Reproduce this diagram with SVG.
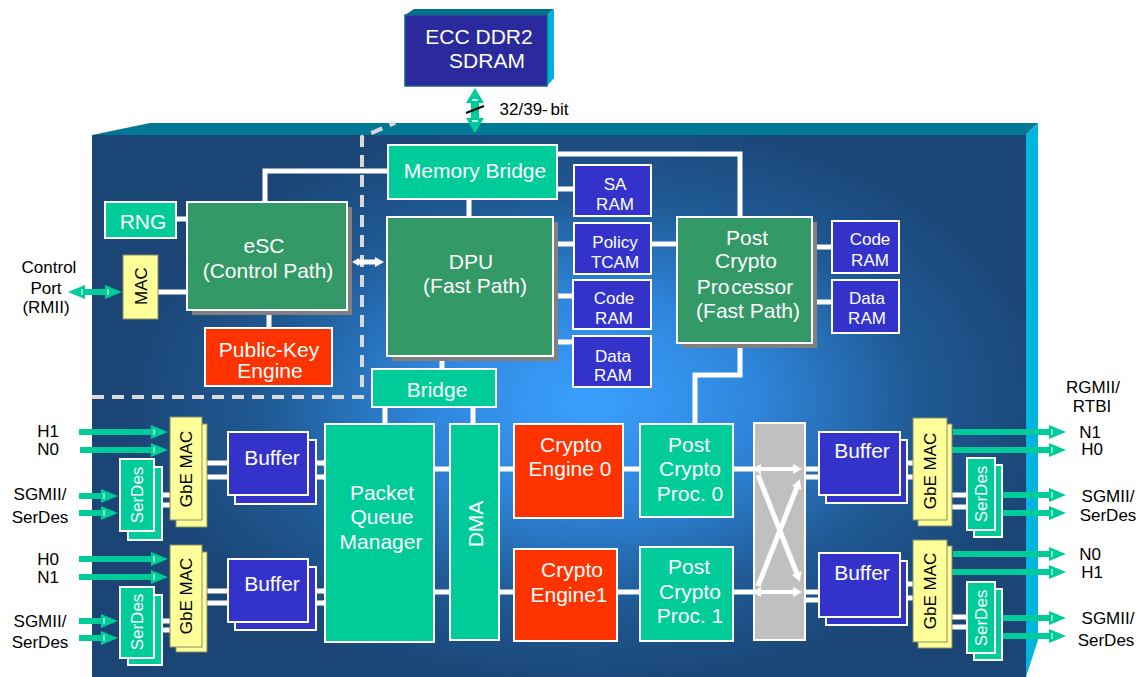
<svg xmlns="http://www.w3.org/2000/svg" width="1140" height="677" viewBox="0 0 1140 677">
<defs>
<radialGradient id="bg" gradientUnits="userSpaceOnUse" cx="590" cy="400" r="470" gradientTransform="translate(590 400) scale(1 0.62) translate(-590 -400)">
<stop offset="0" stop-color="#3aa0ff"/>
<stop offset="0.35" stop-color="#2f86dc"/>
<stop offset="0.7" stop-color="#1f5993"/>
<stop offset="1" stop-color="#1b4575"/>
</radialGradient>
<marker id="th" markerUnits="userSpaceOnUse" markerWidth="20" markerHeight="16" refX="1" refY="7" orient="auto-start-reverse" overflow="visible">
<path d="M0,0 L17,7 L0,14 z" fill="#00cc99"/>
<path d="M3,4 L3,10" stroke="#ffffff" stroke-width="1"/>
</marker>
<marker id="thB" markerUnits="userSpaceOnUse" markerWidth="18" markerHeight="20" refX="1" refY="9" orient="auto-start-reverse" overflow="visible">
<path d="M0,0 L15,9 L0,18 z" fill="#00cc99"/>
<path d="M3,6 L3,12" stroke="#ffffff" stroke-width="1.5"/>
</marker>
<marker id="wh" markerUnits="userSpaceOnUse" markerWidth="12" markerHeight="12" refX="1" refY="5" orient="auto-start-reverse" overflow="visible">
<path d="M0,0 L9,5 L0,10 z" fill="#ffffff"/>
</marker>
<marker id="whS" markerUnits="userSpaceOnUse" markerWidth="10" markerHeight="10" refX="1" refY="4" orient="auto-start-reverse" overflow="visible">
<path d="M0,0 L7,4 L0,8 z" fill="#ffffff"/>
</marker>
<style>
.tg{fill:#00cc99;stroke:#fff;stroke-width:2}
.dg{fill:#339966;stroke:#fff;stroke-width:2}
.bl{fill:#3333cc;stroke:#fff;stroke-width:2}
.rd{fill:#ff3300;stroke:#fff;stroke-width:2}
.yl{fill:#ffff99;stroke:#8c8c66;stroke-width:1}
.sh{fill:#808080}
.gr{fill:#c0c0c0;stroke:#fff;stroke-width:2}
.wt{fill:#fff;font-family:"Liberation Sans",Arial,sans-serif;font-size:21px;text-anchor:middle}
.ws{font-size:17px}
.bk{fill:#000;font-family:"Liberation Sans",Arial,sans-serif;font-size:17px;text-anchor:middle}
.cn{stroke:#fff;stroke-width:5;fill:none}
.ta{stroke:#00cc99;stroke-width:6;fill:none;marker-end:url(#th)}
</style>
</defs>

<g id="chip">
<rect x="92" y="135" width="934" height="542" fill="url(#bg)"/>
<polygon points="92,135 150,123 1038,123 1026,135" fill="#007896"/>
<polygon points="1026,135 1038,123 1038,640 1026,677" fill="#00b4e0"/>
<polyline points="92,397 362,397 362,137 395,123" fill="none" stroke="#d9d9d9" stroke-width="4" stroke-dasharray="12 8"/>
</g>

<g id="connectors">
<path class="cn" d="M388,171 H265 V202"/>
<path class="cn" d="M557,154 H740 V217"/>
<path class="cn" d="M469,199 V217"/>
<path class="cn" d="M557,189 H574"/>
<path class="cn" d="M558,244 H574"/>
<path class="cn" d="M558,296 H573"/>
<path class="cn" d="M558,342 H573"/>
<path class="cn" d="M651,244 H677"/>
<path class="cn" d="M442,356 V369"/>
<path class="cn" d="M176,219 H187"/>
<path class="cn" d="M158,292 H187"/>
<path class="cn" d="M269,310 V328"/>
<path class="cn" d="M817,247 H832"/>
<path class="cn" d="M817,302 H832"/>
<path class="cn" d="M740,343 V375 H695 V424"/>
<path class="cn" d="M385,407 V424"/>
<path class="cn" d="M473,407 V424"/>
<path class="cn" d="M434,469 H450 M434,592 H450"/>
<path class="cn" d="M499,469 H514 M499,592 H514"/>
<path class="cn" d="M623,469 H640 M617,592 H640"/>
<path class="cn" d="M733,469 H754 M733,592 H754"/>
<path class="cn" d="M805,469 H819 M805,477 H826 M805,592 H819 M805,600 H826"/>
<path class="cn" d="M900,463 H913 M907,477 H913 M900,584 H913 M907,598 H913"/>
<path class="cn" d="M952,495 H967 M947,507 H967 M952,617 H967 M947,627 H967"/>
<path class="cn" d="M154,495 H170 M162,505 H170 M154,621 H170 M162,630 H170"/>
<path class="cn" d="M202,463 H228 M207,477 H235 M202,591 H228 M207,603 H235"/>
<path class="cn" d="M308,463 H325 M316,477 H325 M308,591 H325 M316,603 H325"/>
<g fill="#fff"><circle cx="325" cy="463" r="3"/><circle cx="325" cy="477" r="3"/><circle cx="325" cy="591" r="3"/><circle cx="325" cy="603" r="3"/></g>
<line x1="358" y1="262" x2="376" y2="262" stroke="#fff" stroke-width="5" marker-start="url(#whS)" marker-end="url(#wh)"/>
<line x1="475" y1="102" x2="475" y2="119" stroke="#00cc99" stroke-width="8" marker-start="url(#thB)" marker-end="url(#thB)"/>
<line x1="466" y1="113" x2="484" y2="106" stroke="#000" stroke-width="2"/>
<line x1="84" y1="292" x2="106" y2="292" stroke="#00cc99" stroke-width="6" marker-start="url(#th)" marker-end="url(#th)"/>
<path class="ta" d="M79,432 H152"/>
<path class="ta" d="M80,450 H152"/>
<path class="ta" d="M79,496 H102"/>
<path class="ta" d="M79,513 H102"/>
<path class="ta" d="M79,559 H152"/>
<path class="ta" d="M79,577 H152"/>
<path class="ta" d="M79,621 H102"/>
<path class="ta" d="M79,638 H102"/>
<path class="ta" d="M953,432 H1050"/>
<path class="ta" d="M948,450 H1050"/>
<path class="ta" d="M1003,495 H1050"/>
<path class="ta" d="M996,513 H1050"/>
<path class="ta" d="M953,554 H1050"/>
<path class="ta" d="M948,572 H1050"/>
<path class="ta" d="M1003,618 H1050"/>
<path class="ta" d="M996,636 H1050"/>
</g>

<g id="ecc-ddr2">
<polygon points="405,15 414,9 554,9 547,15" fill="#007090"/>
<polygon points="547,15 554,9 554,78 547,86" fill="#00b0e0"/>
<rect x="405" y="15" width="142" height="71" fill="#2a2a9c" stroke="#1a5f86" stroke-width="1.5"/>
<text class="wt" x="479" y="44">ECC DDR2</text>
<text class="wt" x="487" y="68">SDRAM</text>
</g>
<g id="bus-label"><text class="bk" x="534" y="115" word-spacing="-2">32/39- bit</text></g>

<g id="memory-bridge"><rect class="tg" x="388" y="145" width="169" height="54"/><text class="wt" x="475" y="178">Memory Bridge</text></g>
<g id="sa-ram"><rect class="bl" x="574" y="165" width="77" height="51"/><text class="wt ws" x="615" y="190">SA</text><text class="wt ws" x="615" y="210">RAM</text></g>
<g id="policy-tcam"><rect class="bl" x="574" y="223" width="77" height="51"/><text class="wt ws" x="615" y="248">Policy</text><text class="wt ws" x="615" y="268">TCAM</text></g>
<g id="dpu-code-ram"><rect class="bl" x="573" y="280" width="78" height="49"/><text class="wt ws" x="614" y="304">Code</text><text class="wt ws" x="614" y="324">RAM</text></g>
<g id="dpu-data-ram"><rect class="bl" x="573" y="336" width="78" height="51"/><text class="wt ws" x="613" y="362">Data</text><text class="wt ws" x="613" y="381">RAM</text></g>
<g id="dpu"><rect class="sh" x="392" y="222" width="166" height="139"/><rect class="dg" x="387" y="217" width="166" height="139"/><text class="wt" x="471" y="269">DPU</text><text class="wt" x="475" y="293">(Fast Path)</text></g>
<g id="bridge"><rect class="tg" x="372" y="369" width="124" height="38"/><text class="wt" x="437" y="397">Bridge</text></g>
<g id="esc"><rect class="sh" x="192" y="207" width="160" height="108"/><rect class="dg" x="187" y="202" width="160" height="108"/><text class="wt" x="264" y="253">eSC</text><text class="wt" x="268" y="278">(Control Path)</text></g>
<g id="rng"><rect class="tg" x="105" y="202" width="71" height="36"/><text class="wt" x="143" y="229">RNG</text></g>
<g id="ctrl-mac"><rect class="yl" x="123" y="255" width="35" height="64" stroke="#fff"/><text class="bk" x="141" y="292" transform="rotate(-90 141 286)">MAC</text></g>
<g id="control-port"><text class="bk" x="49" y="273">Control</text><text class="bk" x="46" y="294">Port</text><text class="bk" x="46" y="313">(RMII)</text></g>
<g id="pke"><rect class="rd" x="205" y="328" width="127" height="58"/><text class="wt" x="269" y="357">Public-Key</text><text class="wt" x="270" y="378">Engine</text></g>
<g id="post-crypto-processor"><rect class="sh" x="682" y="222" width="135" height="126"/><rect class="dg" x="677" y="217" width="135" height="126"/><text class="wt" x="747" y="245">Post</text><text class="wt" x="746" y="268">Crypto</text><text class="wt" x="745" y="294" word-spacing="-4">Pro cessor</text><text class="wt" x="748" y="318">(Fast Path)</text></g>
<g id="pcp-code-ram"><rect class="bl" x="832" y="221" width="67" height="52"/><text class="wt ws" x="870" y="245">Code</text><text class="wt ws" x="870" y="266">RAM</text></g>
<g id="pcp-data-ram"><rect class="bl" x="832" y="280" width="67" height="53"/><text class="wt ws" x="867" y="304">Data</text><text class="wt ws" x="867" y="324">RAM</text></g>

<g id="pqm"><rect class="tg" x="325" y="424" width="109" height="218"/><text class="wt" x="382" y="500">Packet</text><text class="wt" x="382" y="524">Queue</text><text class="wt" x="381" y="549">Manager</text></g>
<g id="dma"><rect class="tg" x="450" y="424" width="49" height="216"/><text class="wt" x="475" y="532" transform="rotate(-90 475 524)">DMA</text></g>
<g id="crypto-engine-0"><rect class="rd" x="514" y="424" width="109" height="94"/><text class="wt" x="571" y="452">Crypto</text><text class="wt" x="570" y="476">Engine 0</text></g>
<g id="crypto-engine-1"><rect class="rd" x="514" y="549" width="103" height="92"/><text class="wt" x="572" y="577">Crypto</text><text class="wt" x="569" y="602">Engine1</text></g>
<g id="pcp0"><rect class="tg" x="640" y="424" width="93" height="93"/><text class="wt" x="689" y="452">Post</text><text class="wt" x="690" y="476">Crypto</text><text class="wt" x="690" y="501">Proc. 0</text></g>
<g id="pcp1"><rect class="tg" x="640" y="547" width="93" height="94"/><text class="wt" x="689" y="574">Post</text><text class="wt" x="690" y="599">Crypto</text><text class="wt" x="690" y="623">Proc. 1</text></g>
<g id="crossbar"><rect class="gr" x="754" y="423" width="51" height="217"/>
<line x1="760" y1="469" x2="794" y2="469" stroke="#fff" stroke-width="4" marker-start="url(#wh)" marker-end="url(#wh)"/>
<line x1="760" y1="592" x2="794" y2="592" stroke="#fff" stroke-width="4" marker-start="url(#wh)" marker-end="url(#wh)"/>
<line x1="758" y1="475" x2="797" y2="574" stroke="#fff" stroke-width="5" marker-end="url(#wh)"/>
<line x1="758" y1="586" x2="797" y2="487" stroke="#fff" stroke-width="5" marker-end="url(#wh)"/>
</g>

<g id="r-buffer-0"><rect class="bl" x="826" y="440" width="81" height="63"/><rect class="bl" x="819" y="432" width="81" height="63"/><text class="wt" x="862" y="458">Buffer</text></g>
<g id="r-buffer-1"><rect class="bl" x="826" y="561" width="81" height="64"/><rect class="bl" x="819" y="553" width="81" height="64"/><text class="wt" x="862" y="580">Buffer</text></g>
<g id="r-gbe-mac-0"><rect class="yl" x="918" y="424" width="34" height="102"/><rect class="yl" x="913" y="418" width="34" height="102"/><text class="bk" x="930" y="477" transform="rotate(-90 930 471)">GbE MAC</text></g>
<g id="r-gbe-mac-1"><rect class="yl" x="918" y="546" width="34" height="102"/><rect class="yl" x="913" y="540" width="34" height="102"/><text class="bk" x="930" y="597" transform="rotate(-90 930 591)">GbE MAC</text></g>
<g id="r-serdes-0"><rect class="tg" x="974" y="465" width="28" height="72"/><rect class="tg" x="967" y="458" width="28" height="72"/><text class="wt ws" x="981" y="500" transform="rotate(-90 981 494)">SerDes</text></g>
<g id="r-serdes-1"><rect class="tg" x="974" y="589" width="28" height="71"/><rect class="tg" x="967" y="582" width="28" height="71"/><text class="wt ws" x="981" y="624" transform="rotate(-90 981 618)">SerDes</text></g>

<g id="l-gbe-mac-0"><rect class="yl" x="176" y="424" width="31" height="103"/><rect class="yl" x="170" y="417" width="32" height="103"/><text class="bk" x="186" y="475" transform="rotate(-90 186 469)">GbE MAC</text></g>
<g id="l-gbe-mac-1"><rect class="yl" x="176" y="552" width="31" height="100"/><rect class="yl" x="170" y="545" width="32" height="102"/><text class="bk" x="186" y="602" transform="rotate(-90 186 596)">GbE MAC</text></g>
<g id="l-serdes-0"><rect class="tg" x="128" y="467" width="34" height="73"/><rect class="tg" x="120" y="459" width="34" height="72"/><text class="wt ws" x="137" y="501" transform="rotate(-90 137 495)">SerDes</text></g>
<g id="l-serdes-1"><rect class="tg" x="128" y="595" width="34" height="70"/><rect class="tg" x="120" y="587" width="34" height="71"/><text class="wt ws" x="137" y="628" transform="rotate(-90 137 622)">SerDes</text></g>
<g id="l-buffer-0"><rect class="bl" x="235" y="440" width="81" height="64"/><rect class="bl" x="228" y="432" width="80" height="63"/><text class="wt" x="272" y="465">Buffer</text></g>
<g id="l-buffer-1"><rect class="bl" x="235" y="567" width="81" height="63"/><rect class="bl" x="228" y="559" width="80" height="63"/><text class="wt" x="272" y="591">Buffer</text></g>

<g id="left-labels">
<text class="bk" x="48" y="437">H1</text><text class="bk" x="48" y="455">N0</text>
<text class="bk" x="40" y="500">SGMII/</text><text class="bk" x="40" y="523">SerDes</text>
<text class="bk" x="48" y="565">H0</text><text class="bk" x="48" y="583">N1</text>
<text class="bk" x="40" y="627">SGMII/</text><text class="bk" x="40" y="648">SerDes</text>
</g>
<g id="right-labels">
<text class="bk" x="1093" y="393">RGMII/</text><text class="bk" x="1092" y="412">RTBI</text>
<text class="bk" x="1090" y="438">N1</text><text class="bk" x="1092" y="455">H0</text>
<text class="bk" x="1108" y="502">SGMII/</text><text class="bk" x="1108" y="521">SerDes</text>
<text class="bk" x="1090" y="560">N0</text><text class="bk" x="1092" y="578">H1</text>
<text class="bk" x="1108" y="624">SGMII/</text><text class="bk" x="1106" y="646">SerDes</text>
</g>
</svg>
